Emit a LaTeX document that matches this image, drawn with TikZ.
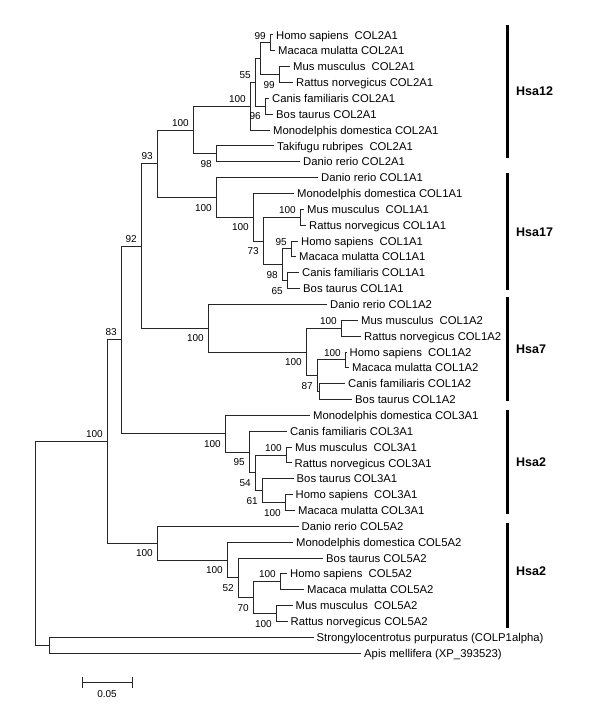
\documentclass[tikz,border=0pt]{standalone}
\usepackage{fontspec}
\setmainfont{Liberation Sans}
\begin{document}
\begin{tikzpicture}[x=1pt,y=-1pt,
  br/.style={draw=black!85, line width=1pt, line join=miter},
  leaf/.style={anchor=west, inner xsep=3pt, inner ysep=0pt, text height=8.1pt, text depth=0pt, font=\fontsize{11.3}{13}\selectfont},
  bs/.style={anchor=east, inner sep=0pt, text height=7.2pt, text depth=0pt, font=\fontsize{10}{12}\selectfont},
  bsa/.style={bs, xshift=-4pt, yshift=7.5pt},
  bsb/.style={bs, xshift=-4pt, yshift=-10pt},
  grp/.style={anchor=west, inner sep=0pt, text height=9pt, text depth=0pt, font=\fontsize{12.5}{14}\selectfont\bfseries},
  bar/.style={draw=black, line width=3.5pt}]
\useasboundingbox (0,0) rectangle (600,706);
\fill[white] (0,0) rectangle (600,706);

% ---------- leaves ----------
\node[leaf] (l1)  at (273,35.00)   {Homo sapiens\ \ COL2A1};
\node[leaf] (l2)  at (275,50.85)   {Macaca mulatta COL2A1};
\node[leaf] (l3)  at (290,66.70)   {Mus musculus\ \ COL2A1};
\node[leaf] (l4)  at (293,82.55)   {Rattus norvegicus COL2A1};
\node[leaf] (l5)  at (269,98.40)   {Canis familiaris COL2A1};
\node[leaf] (l6)  at (273,114.25)  {Bos taurus COL2A1};
\node[leaf] (l7)  at (270,130.10)  {Monodelphis domestica COL2A1};
\node[leaf] (l8)  at (274,145.95)  {Takifugu rubripes\ \ COL2A1};
\node[leaf] (l9)  at (300,161.80)  {Danio rerio COL2A1};
\node[leaf] (l10) at (318,177.65)  {Danio rerio COL1A1};
\node[leaf] (l11) at (294,193.50)  {Monodelphis domestica COL1A1};
\node[leaf] (l12) at (304,209.35)  {Mus musculus\ \ COL1A1};
\node[leaf] (l13) at (306,225.20)  {Rattus norvegicus COL1A1};
\node[leaf] (l14) at (298,241.05)  {Homo sapiens\ \ COL1A1};
\node[leaf] (l15) at (296,256.90)  {Macaca mulatta COL1A1};
\node[leaf] (l16) at (299,272.75)  {Canis familiaris COL1A1};
\node[leaf] (l17) at (300,288.60)  {Bos taurus COL1A1};
\node[leaf] (l18) at (327,304.45)  {Danio rerio COL1A2};
\node[leaf] (l19) at (358,320.30)  {Mus musculus\ \ COL1A2};
\node[leaf] (l20) at (361,336.15)  {Rattus norvegicus COL1A2};
\node[leaf] (l21) at (346.5,352.00){Homo sapiens\ \ COL1A2};
\node[leaf] (l22) at (349,367.85)  {Macaca mulatta COL1A2};
\node[leaf] (l23) at (345,383.70)  {Canis familiaris COL1A2};
\node[leaf] (l24) at (352,399.55)  {Bos taurus COL1A2};
\node[leaf] (l25) at (310,415.40)  {Monodelphis domestica COL3A1};
\node[leaf] (l26) at (287,431.25)  {Canis familiaris COL3A1};
\node[leaf] (l27) at (292,447.10)  {Mus musculus\ \ COL3A1};
\node[leaf] (l28) at (291.5,462.95){Rattus norvegicus COL3A1};
\node[leaf] (l29) at (293.5,478.80){Bos taurus COL3A1};
\node[leaf] (l30) at (292.5,494.65){Homo sapiens\ \ COL3A1};
\node[leaf] (l31) at (295,510.50)  {Macaca mulatta COL3A1};
\node[leaf] (l32) at (298.5,526.35){Danio rerio COL5A2};
\node[leaf] (l33) at (293,542.20)  {Monodelphis domestica COL5A2};
\node[leaf] (l34) at (323,558.05)  {Bos taurus COL5A2};
\node[leaf] (l35) at (287,573.90)  {Homo sapiens\ \ COL5A2};
\node[leaf] (l36) at (304,589.75)  {Macaca mulatta COL5A2};
\node[leaf] (l37) at (292.5,605.60){Mus musculus\ \ COL5A2};
\node[leaf] (l38) at (287.5,621.45){Rattus norvegicus COL5A2};
\node[leaf] (l39) at (313.5,637.30){Strongylocentrotus purpuratus (COLP1alpha)};
\node[leaf] (l40) at (361,653.15)  {Apis mellifera (XP\_393523)};

% ---------- internal nodes ----------
\coordinate (HM)    at (270,42.93);
\coordinate (MR)    at (279,74.63);
\coordinate (P1)    at (260,58.78);
\coordinate (CB)    at (265,106.33);
\coordinate (N55)   at (255,82.55);
\coordinate (Na)    at (250,106.32);
\coordinate (TD)    at (216,153.88);
\coordinate (Nb)    at (193,130.10);
\coordinate (MRa)   at (300,217.28);
\coordinate (HMa)   at (291,248.98);
\coordinate (CBa)   at (287,280.68);
\coordinate (N98)   at (282,264.83);
\coordinate (N73)   at (263,241.05);
\coordinate (Nc)    at (253,217.28);
\coordinate (Nd)    at (216,197.46);
\coordinate (N93)   at (157,163.78);
\coordinate (MRb)   at (341,328.23);
\coordinate (HMb)   at (345,359.93);
\coordinate (CBb)   at (319,391.63);
\coordinate (N87)   at (317,375.78);
\coordinate (Nf)    at (306,352.00);
\coordinate (Ne)    at (208,328.23);
\coordinate (N92)   at (141,246.00);
\coordinate (MRc)   at (286,455.03);
\coordinate (HMc)   at (285,502.58);
\coordinate (N61)   at (262,490.69);
\coordinate (N54)   at (255,472.86);
\coordinate (N95)   at (249,452.05);
\coordinate (Ni)    at (225,433.73);
\coordinate (N83)   at (121,339.86);
\coordinate (HMd)   at (280,581.83);
\coordinate (MRd)   at (276,613.53);
\coordinate (N70)   at (253,597.68);
\coordinate (N52)   at (238,577.86);
\coordinate (Nm)    at (227,560.03);
\coordinate (Nl)    at (157,543.19);
\coordinate (Nbig)  at (107,441.53);
\coordinate (NSA)   at (49,645.23);
\coordinate (root)  at (35,543.38);

% ---------- branches ----------
\draw[br] (HM) |- (l1.west);  \draw[br] (HM) |- (l2.west);
\draw[br] (MR) |- (l3.west);  \draw[br] (MR) |- (l4.west);
\draw[br] (P1) |- (HM);       \draw[br] (P1) |- (MR);
\draw[br] (CB) |- (l5.west);  \draw[br] (CB) |- (l6.west);
\draw[br] (N55) |- (P1);      \draw[br] (N55) |- (CB);
\draw[br] (Na) |- (N55);      \draw[br] (Na) |- (l7.west);
\draw[br] (TD) |- (l8.west);  \draw[br] (TD) |- (l9.west);
\draw[br] (Nb) |- (Na);       \draw[br] (Nb) |- (TD);
\draw[br] (MRa) |- (l12.west); \draw[br] (MRa) |- (l13.west);
\draw[br] (HMa) |- (l14.west); \draw[br] (HMa) |- (l15.west);
\draw[br] (CBa) |- (l16.west); \draw[br] (CBa) |- (l17.west);
\draw[br] (N98) |- (HMa);     \draw[br] (N98) |- (CBa);
\draw[br] (N73) |- (MRa);     \draw[br] (N73) |- (N98);
\draw[br] (Nc) |- (l11.west); \draw[br] (Nc) |- (N73);
\draw[br] (Nd) |- (l10.west); \draw[br] (Nd) |- (Nc);
\draw[br] (N93) |- (Nb);      \draw[br] (N93) |- (Nd);
\draw[br] (MRb) |- (l19.west); \draw[br] (MRb) |- (l20.west);
\draw[br] (HMb) |- (l21.west); \draw[br] (HMb) |- (l22.west);
\draw[br] (CBb) |- (l23.west); \draw[br] (CBb) |- (l24.west);
\draw[br] (N87) |- (HMb);     \draw[br] (N87) |- (CBb);
\draw[br] (Nf) |- (MRb);      \draw[br] (Nf) |- (N87);
\draw[br] (Ne) |- (l18.west); \draw[br] (Ne) |- (Nf);
\draw[br] (N92) |- (N93);     \draw[br] (N92) |- (Ne);
\draw[br] (MRc) |- (l27.west); \draw[br] (MRc) |- (l28.west);
\draw[br] (HMc) |- (l30.west); \draw[br] (HMc) |- (l31.west);
\draw[br] (N61) |- (l29.west); \draw[br] (N61) |- (HMc);
\draw[br] (N54) |- (MRc);     \draw[br] (N54) |- (N61);
\draw[br] (N95) |- (l26.west); \draw[br] (N95) |- (N54);
\draw[br] (Ni) |- (l25.west); \draw[br] (Ni) |- (N95);
\draw[br] (N83) |- (N92);     \draw[br] (N83) |- (Ni);
\draw[br] (HMd) |- (l35.west); \draw[br] (HMd) |- (l36.west);
\draw[br] (MRd) |- (l37.west); \draw[br] (MRd) |- (l38.west);
\draw[br] (N70) |- (HMd);     \draw[br] (N70) |- (MRd);
\draw[br] (N52) |- (l34.west); \draw[br] (N52) |- (N70);
\draw[br] (Nm) |- (l33.west); \draw[br] (Nm) |- (N52);
\draw[br] (Nl) |- (l32.west); \draw[br] (Nl) |- (Nm);
\draw[br] (Nbig) |- (N83);    \draw[br] (Nbig) |- (Nl);
\draw[br] (NSA) |- (l39.west); \draw[br] (NSA) |- (l40.west);
\draw[br] (root) |- (Nbig);   \draw[br] (root) |- (NSA);

% ---------- bootstrap values ----------
\node[bsa] (b1)  at (HM)  {99};
\node[bsb] (b2)  at (MR)  {99};
\node[bsa] (b3)  at (N55) {55};
\node[bsb] (b4)  at (CB)  {96};
\node[bsa] (b5)  at (Na)  {100};
\node[bsb] (b6)  at (TD)  {98};
\node[bsa] (b7)  at (Nb)  {100};
\node[bsa] (b8)  at (N93) {93};
\node[bsb] (b9)  at (Nd)  {100};
\node[bsb] (b10) at (Nc)  {100};
\node[bsb] (b11) at (N73) {73};
\node[bsa] (b12) at (MRa) {100};
\node[bsa] (b13) at (HMa) {95};
\node[bsb] (b14) at (N98) {98};
\node[bsb] (b15) at (CBa) {65};
\node[bsa] (b16) at (N92) {92};
\node[bsb] (b17) at (Ne)  {100};
\node[bsb] (b18) at (Nf)  {100};
\node[bsa] (b19) at (MRb) {100};
\node[bsa] (b20) at (HMb) {100};
\node[bsb] (b21) at (N87) {87};
\node[bsa] (b22) at (N83) {83};
\node[bsb] (b23) at (Ni)  {100};
\node[bsb] (b24) at (N95) {95};
\node[bsb] (b25) at (N54) {54};
\node[bsb] (b26) at (N61) {61};
\node[bsa] (b27) at (MRc) {100};
\node[bsb] (b28) at (HMc) {100};
\node[bsa] (b29) at (Nbig) {100};
\node[bsb] (b30) at (Nl)  {100};
\node[bsb] (b31) at (Nm)  {100};
\node[bsb] (b32) at (N52) {52};
\node[bsb] (b33) at (N70) {70};
\node[bsa] (b34) at (HMd) {100};
\node[bsb] (b35) at (MRd) {100};

% ---------- chromosome bars ----------
\draw[bar] (507.5,25) -- (507.5,158);
\draw[bar] (507.5,173) -- (507.5,290);
\draw[bar] (507.5,297) -- (507.5,401);
\draw[bar] (507.5,410) -- (507.5,514);
\draw[bar] (507.5,523) -- (507.5,628);
\node[grp] (g1) at (516,91)  {Hsa12};
\node[grp] (g2) at (516,232) {Hsa17};
\node[grp] (g3) at (516,349) {Hsa7};
\node[grp] (g4) at (516,462) {Hsa2};
\node[grp] (g5) at (516,571) {Hsa2};

% ---------- scale bar ----------
\coordinate (s1) at (82,682);
\coordinate (s2) at (132,682);
\draw[br] (s1) -- (s2);
\draw[br] ([yshift=5.5pt]s1) -- ([yshift=-6pt]s1);
\draw[br] ([yshift=5.5pt]s2) -- ([yshift=-6pt]s2);
\node[inner sep=0pt, text height=7.2pt, text depth=0pt, font=\fontsize{10}{12}\selectfont] (sl) at (107,693.5) {0.05};
\end{tikzpicture}
\end{document}
